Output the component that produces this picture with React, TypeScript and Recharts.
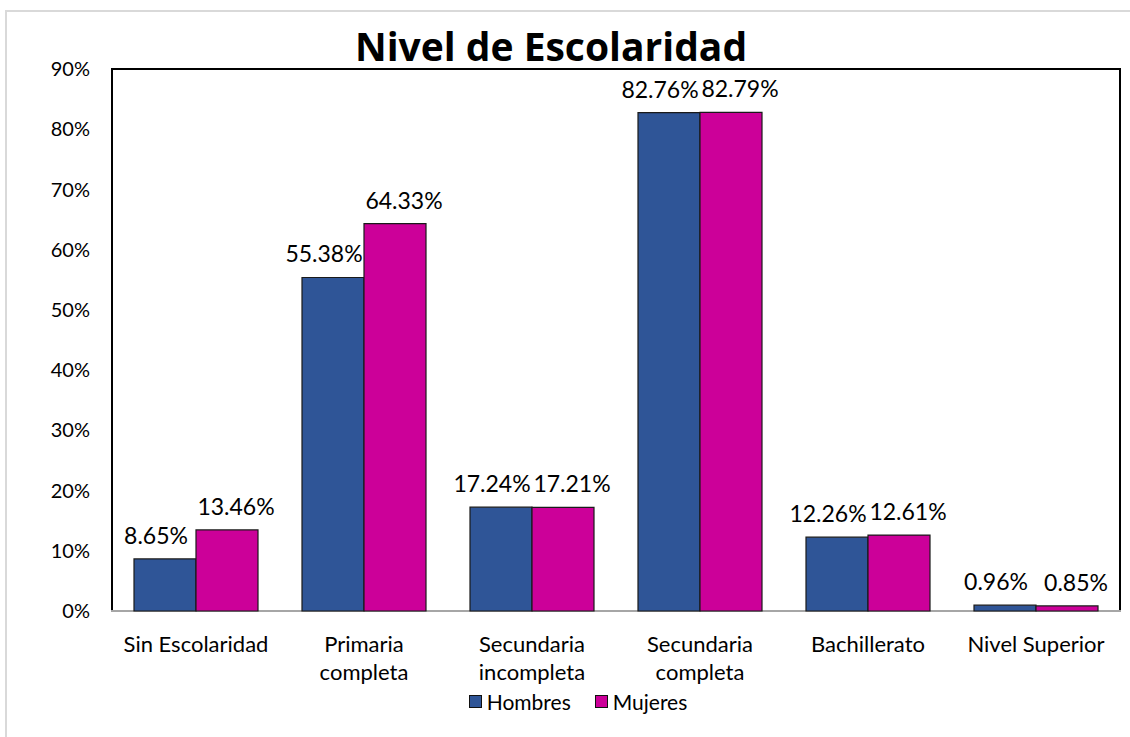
import { Bar, BarChart, LabelList, ReferenceArea, XAxis, YAxis } from 'recharts'

// Nivel de escolaridad por sexo, porcentajes.
const categories = [
  'Sin Escolaridad',
  'Primaria\ncompleta',
  'Secundaria\nincompleta',
  'Secundaria\ncompleta',
  'Bachillerato',
  'Nivel Superior',
]
const hombres = [8.65, 55.38, 17.24, 82.76, 12.26, 0.96]
const mujeres = [13.46, 64.33, 17.21, 82.79, 12.61, 0.85]
const yTicks = [0, 10, 20, 30, 40, 50, 60, 70, 80, 90]

const SERIES = [
  { key: 'hombres', name: 'Hombres', color: '#2F5597', dx: -9 },
  { key: 'mujeres', name: 'Mujeres', color: '#CC0099', dx: 9 },
]

const data = categories.map((c, i) => ({ cat: c, hombres: hombres[i], mujeres: mujeres[i] }))

const FONT = 'Lato, "Open Sans", sans-serif'

function CategoryTick({ x, y, payload }: any) {
  const lines = String(payload.value).split('\n')
  return (
    <text x={x} y={y} textAnchor="middle" fill="#000" fontSize={22} fontFamily={FONT}>
      {lines.map((l, i) => (
        <tspan key={i} x={x} dy={i === 0 ? 33 : 28}>{l}</tspan>
      ))}
    </text>
  )
}

function pctLabel(dx: number) {
  return ({ x, y, width, value }: any) => (
    <text
      x={Number(x) + Number(width) / 2 + dx}
      y={Number(y) - 15}
      textAnchor="middle"
      fill="#000"
      fontSize={23}
      fontFamily={FONT}
    >
      {Number(value).toFixed(2)}%
    </text>
  )
}

function LegendBox() {
  return (
    <div style={{ display: 'flex', justifyContent: 'center', gap: 24, fontFamily: FONT, fontSize: 21 }}>
      {SERIES.map((s) => (
        <span key={s.key} style={{ display: 'flex', alignItems: 'center', gap: 5 }}>
          <span style={{ width: 11, height: 11, background: s.color, border: '1.5px solid #111' }} />
          {s.name}
        </span>
      ))}
    </div>
  )
}

export default function App() {
  return (
    <div style={{ position: 'absolute', left: 0, top: 0, width: 1130, height: 737, background: '#fff', overflow: 'hidden' }}>
      <div style={{ position: 'absolute', left: 5, top: 10, width: 1140, height: 740, border: '2px solid #d9d9d9' }} />
      <div
        style={{
          position: 'absolute', left: 0, top: 20, width: 1102, textAlign: 'center',
          fontFamily: '"Open Sans", sans-serif', fontWeight: 700, fontSize: 39, lineHeight: '52px', color: '#000',
        }}
      >
        Nivel de Escolaridad
      </div>
      <div style={{ position: 'absolute', left: 0, top: 0 }}>
        <BarChart
          width={1130}
          height={737}
          data={data}
          margin={{ top: 69, right: 10, left: 0, bottom: 56 }}
          barCategoryGap={22}
          barGap={0}
        >
          <XAxis
            dataKey="cat"
            interval={0}
            tick={<CategoryTick />}
            tickLine={false}
            axisLine={false}
            height={70}
          />
          <YAxis
            domain={[0, 90]}
            ticks={yTicks}
            tickFormatter={(v) => `${v}%`}
            width={112}
            tickSize={0}
            tickMargin={22}
            axisLine={false}
            tick={{ fill: '#000', fontSize: 20, fontFamily: FONT }}
          />
          <ReferenceArea y1={0} y2={90} fill="none" stroke="#000" strokeWidth={2} ifOverflow="visible" />
          {SERIES.map((s) => (
            <Bar
              key={s.key}
              dataKey={s.key}
              name={s.name}
              fill={s.color}
              stroke="#1a1a1a"
              strokeWidth={1.2}
              isAnimationActive={false}
            >
              <LabelList dataKey={s.key} content={pctLabel(s.dx)} />
            </Bar>
          ))}
          <ReferenceArea y1={0} y2={0.01} fill="none" stroke="#a6a6a6" strokeWidth={2} ifOverflow="visible" />
        </BarChart>
      </div>
      <div style={{ position: 'absolute', left: 0, top: 689, width: 1156 }}>
        <LegendBox />
      </div>
    </div>
  )
}
